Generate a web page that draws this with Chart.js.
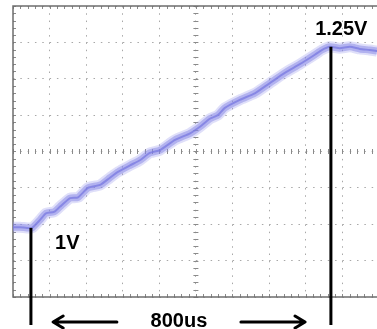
<!DOCTYPE html>
<html>
<head>
<meta charset="utf-8">
<script src="https://cdn.jsdelivr.net/npm/chart.js@4.4.1/dist/chart.umd.min.js"></script>
<style>
  html, body { margin: 0; padding: 0; background: #fff; overflow: hidden; }
  #wrap { width: 377px; height: 329px; position: relative; }
</style>
</head>
<body>
<div id="wrap"><canvas id="scope"></canvas></div>
<script>
// time in us, voltage in V
const timeUs = [0, 19, 38, 52, 74, 90, 112, 128, 156, 178, 205, 238, 265, 287, 320, 347, 374, 402,
    443, 484, 511, 538, 560, 579, 620, 661, 702, 743, 784, 825, 844, 866, 893, 921, 948, 975, 995];
const volts = [1.001, 1.001, 1.000, 1.000, 1.011, 1.020, 1.022, 1.029, 1.041, 1.042, 1.055, 1.059,
    1.069, 1.077, 1.086, 1.093, 1.103, 1.107, 1.121, 1.130, 1.139, 1.150, 1.155, 1.165, 1.176, 1.185,
    1.199, 1.213, 1.225, 1.238, 1.2445, 1.249, 1.247, 1.249, 1.246, 1.2445, 1.243];
const xTicks = [0, 100, 200, 300, 400, 500, 600, 700, 800, 900];
const yTicks = [0.905, 0.955, 1.005, 1.055, 1.105, 1.155, 1.205, 1.255, 1.305];
const markers = [{ t: 49, v: 1.0 }, { t: 869, v: 1.249 }];
const labels = [{ text: '1V', t: 115, v: 0.971 }, { text: '1.25V', t: 826, v: 1.265 }];
const spanLabel = '800us';

const points = timeUs.map((t, i) => ({ x: t, y: volts[i] }));

const scopeFrame = {
    id: 'scopeFrame',
    beforeDatasetsDraw(chart) {
        const { ctx, chartArea: a, scales: { x, y } } = chart;
        ctx.save();
        ctx.strokeStyle = '#8a8a8a';
        ctx.lineWidth = 1;
        ctx.beginPath();
        const cx = x.getPixelForValue(500);
        const cy = y.getPixelForValue(1.105);
        for (let t = 0; t <= 995; t += 20) {
            const px = Math.round(x.getPixelForValue(t)) + 0.5;
            ctx.moveTo(px, a.top); ctx.lineTo(px, a.top + 3);
            ctx.moveTo(px, a.bottom); ctx.lineTo(px, a.bottom - 3);
            ctx.moveTo(px, cy - 2.5); ctx.lineTo(px, cy + 2.5);
        }
        for (let v = 0.905; v <= 1.3055; v += 0.01) {
            const py = Math.round(y.getPixelForValue(v)) + 0.5;
            ctx.moveTo(a.left, py); ctx.lineTo(a.left + 3, py);
            ctx.moveTo(cx - 2.5, py); ctx.lineTo(cx + 2.5, py);
        }
        ctx.stroke();
        ctx.strokeStyle = '#6e6e6e';
        ctx.lineWidth = 1.5;
        ctx.beginPath();
        ctx.moveTo(a.right + 5, a.top);
        ctx.lineTo(a.left, a.top);
        ctx.lineTo(a.left, a.bottom);
        ctx.lineTo(a.right + 5, a.bottom);
        ctx.stroke();
        ctx.restore();
    },
    afterDatasetsDraw(chart) {
        const { ctx, chartArea: a, scales: { x, y } } = chart;
        ctx.save();
        ctx.strokeStyle = '#000';
        ctx.fillStyle = '#000';
        ctx.lineWidth = 3;
        const yEnd = a.bottom + 28;
        markers.forEach(m => {
            const px = x.getPixelForValue(m.t);
            ctx.beginPath();
            ctx.moveTo(px, y.getPixelForValue(m.v));
            ctx.lineTo(px, yEnd);
            ctx.stroke();
        });
        ctx.font = 'bold 20px "Liberation Sans", Arial, sans-serif';
        ctx.textBaseline = 'alphabetic';
        labels.forEach(l => {
            ctx.fillText(l.text, x.getPixelForValue(l.t), y.getPixelForValue(l.v));
        });

        // span annotation below the graticule
        const ay = a.bottom + 25;
        const x1 = x.getPixelForValue(107), x2 = x.getPixelForValue(284);
        const x3 = x.getPixelForValue(623), x4 = x.getPixelForValue(801);
        ctx.lineWidth = 3;
        ctx.lineCap = 'round';
        ctx.lineJoin = 'round';
        ctx.beginPath();
        ctx.moveTo(x1 + 2, ay); ctx.lineTo(x2, ay);
        ctx.moveTo(x1 + 11, ay - 6); ctx.lineTo(x1 + 1, ay); ctx.lineTo(x1 + 11, ay + 6);
        ctx.moveTo(x3, ay); ctx.lineTo(x4 - 2, ay);
        ctx.moveTo(x4 - 11, ay - 6); ctx.lineTo(x4 - 1, ay); ctx.lineTo(x4 - 11, ay + 6);
        ctx.stroke();
        ctx.textAlign = 'center';
        ctx.font = 'bold 20px "Liberation Sans", Arial, sans-serif';
        ctx.fillText(spanLabel, (x2 + x3) / 2, a.bottom + 30);
        ctx.restore();
    }
};

const traceLayer = (color, width) => ({
    data: points,
    showLine: true,
    borderColor: color,
    borderWidth: width,
    pointRadius: 0,
    tension: 0.2
});

new Chart(document.getElementById('scope'), {
    type: 'scatter',
    data: {
        datasets: [
            traceLayer('rgba(150,150,236,0.3)', 11),
            traceLayer('rgba(125,125,228,0.5)', 7),
            traceLayer('rgba(92,92,212,0.75)', 2)
        ]
    },
    options: {
        responsive: true,
        maintainAspectRatio: false,
        animation: false,
        events: [],
        layout: { padding: { left: 13, top: 6, right: 0, bottom: 32 } },
        plugins: { legend: { display: false }, tooltip: { enabled: false } },
        scales: {
            x: {
                type: 'linear',
                min: 0,
                max: 995,
                afterBuildTicks: s => { s.ticks = xTicks.map(v => ({ value: v })); },
                ticks: { display: false },
                grid: { color: '#a8a8a8', lineWidth: 1, drawTicks: false },
                border: { display: false, dash: [1.5, 5.78] }
            },
            y: {
                type: 'linear',
                min: 0.905,
                max: 1.305,
                afterBuildTicks: s => { s.ticks = yTicks.map(v => ({ value: v })); },
                ticks: { display: false },
                grid: { color: '#a8a8a8', lineWidth: 1, drawTicks: false },
                border: { display: false, dash: [1.5, 5.82] }
            }
        }
    },
    plugins: [scopeFrame]
});
</script>
</body>
</html>
